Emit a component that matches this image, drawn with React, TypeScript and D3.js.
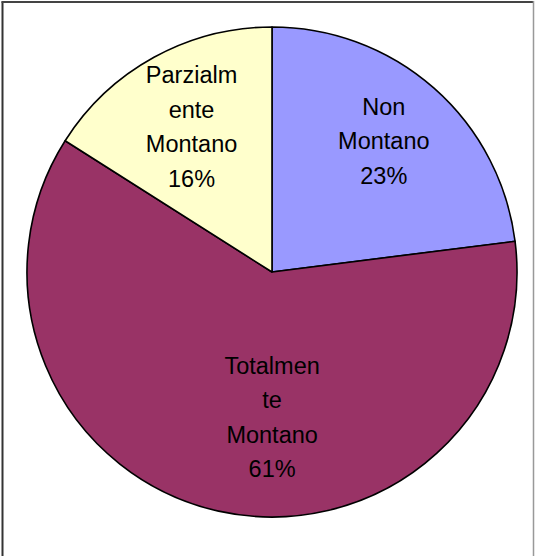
import React from "react";
import * as d3 from "d3";

const categories = ["Non Montano", "Totalmente Montano", "Parzialmente Montano"];
const shares = [23, 61, 16];
const labelLines = [
  ["Non", "Montano", "23%"],
  ["Totalmen", "te", "Montano", "61%"],
  ["Parzialm", "ente", "Montano", "16%"],
];
const colors = ["#9999FF", "#993366", "#FFFFCC"];

// label placement tweaks (Excel nudges the labels a bit off the centroid)
const labelRadius = 0.69;
const labelNudge = [
  [0, -4.5],
  [37, -20],
  [1, 2.5],
];

const W = 535;
const H = 556;
const cx = 272;
const cy = 272;
const R = 245;
const lineH = 34.5;
const capH = 16.8;

export default function App() {
  const data = categories.map((name, i) => ({ name, value: shares[i], idx: i }));

  const pie = d3
    .pie<{ name: string; value: number; idx: number }>()
    .value((d) => d.value)
    .sort(null);
  const arcs = pie(data);

  const arc = d3
    .arc<d3.PieArcDatum<{ name: string; value: number; idx: number }>>()
    .innerRadius(0)
    .outerRadius(R);

  const labelArc = d3
    .arc<d3.PieArcDatum<{ name: string; value: number; idx: number }>>()
    .innerRadius(R * labelRadius)
    .outerRadius(R * labelRadius);

  return (
    <svg
      width={W}
      height={H}
      style={{ position: "absolute", left: 0, top: 0, background: "#fff" }}
      fontFamily="'Liberation Sans', Arial, sans-serif"
    >
      <rect x={0} y={0} width={W} height={H} fill="#fff" />
      <line x1={2.5} y1={1.5} x2={2.5} y2={H} stroke="#333" strokeWidth={2} />
      <line x1={1.5} y1={2} x2={534} y2={2} stroke="#444" strokeWidth={2} />
      <line x1={533.5} y1={1} x2={533.5} y2={H} stroke="#999" strokeWidth={1.5} />

      <g transform={`translate(${cx},${cy})`}>
        {arcs.map((a, i) => (
          <path
            key={categories[i]}
            d={arc(a) || ""}
            fill={colors[i]}
            stroke="#000"
            strokeWidth={1.6}
            strokeLinejoin="round"
          />
        ))}
        {arcs.map((a, i) => {
          const [lx, ly] = labelArc.centroid(a);
          const lines = labelLines[i];
          const blockH = (lines.length - 1) * lineH + capH;
          const b1 = ly + labelNudge[i][1] - blockH / 2 + capH;
          return (
            <text key={"lbl-" + i} textAnchor="middle" fontSize={23.5} fill="#000">
              {lines.map((t, j) => (
                <tspan key={j} x={lx + labelNudge[i][0]} y={b1 + j * lineH}>
                  {t}
                </tspan>
              ))}
            </text>
          );
        })}
      </g>
    </svg>
  );
}
